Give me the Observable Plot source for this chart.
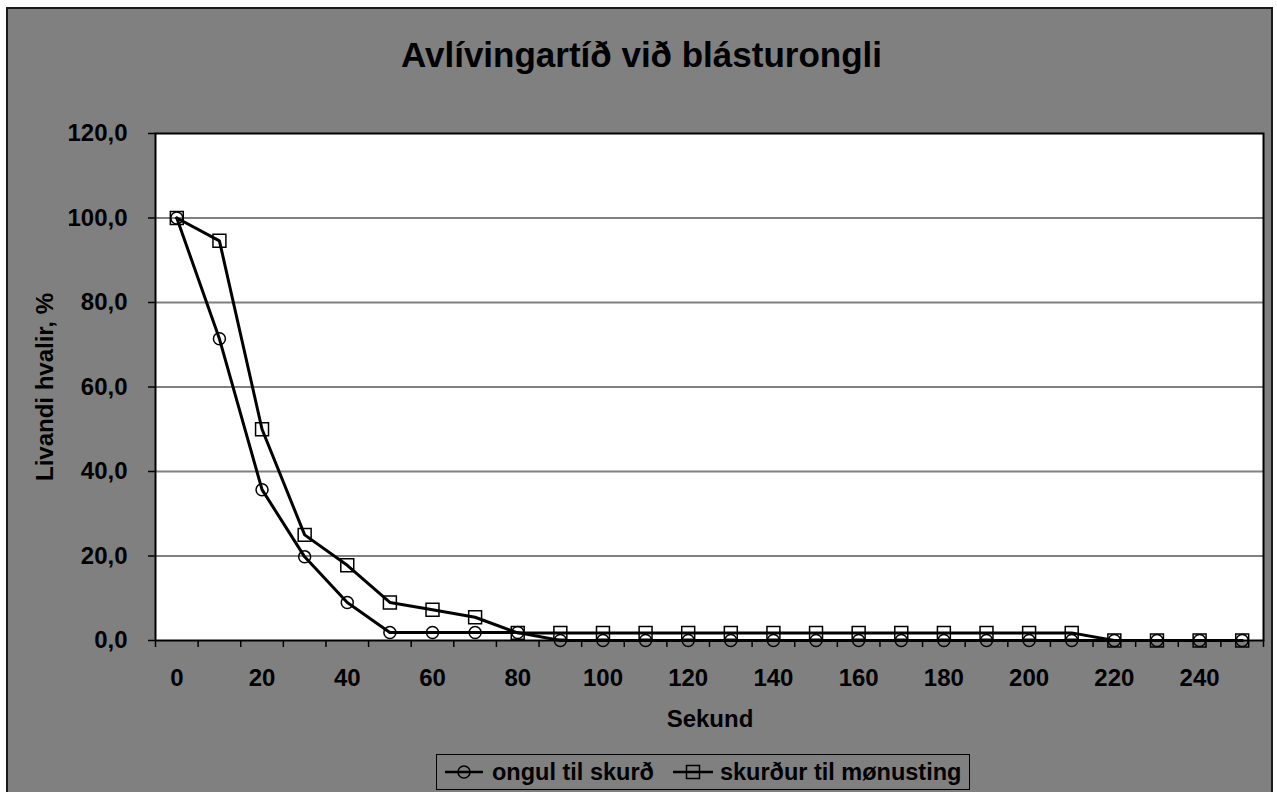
<!DOCTYPE html>
<html>
<head>
<meta charset="utf-8">
<script src="https://cdn.jsdelivr.net/npm/d3@7"></script>
<script src="https://cdn.jsdelivr.net/npm/@observablehq/plot@0.6"></script>
<style>
  html, body { margin: 0; padding: 0; background: #ffffff; width: 1277px; height: 792px; overflow: hidden; }
  body { position: relative; font-family: "Liberation Sans", Arial, sans-serif; font-weight: bold; color: #000; }
  #outer { position: absolute; left: 6px; top: 7px; width: 1267px; height: 800px; background: #808080; border: 2px solid #1a1a1a; box-sizing: border-box; }
  #chart { position: absolute; left: 0; top: 0; }
  .lbl { position: absolute; line-height: 1; white-space: nowrap; }
  #title { font-size: 35px; left: 641.5px; top: 36.5px; transform: translateX(-50%); }
  #xtitle { font-size: 24px; left: 710px; top: 707px; transform: translateX(-50%); }
  #ytitle { font-size: 24px; left: 44.7px; top: 386.5px; transform: translate(-50%, -50%) rotate(-90deg); }
  #legend { position: absolute; left: 436px; top: 754px; height: 34px; border: 1px solid #000; display: flex; align-items: center; padding: 0 8px; font-size: 23.5px; white-space: nowrap; }
  #legend svg { display: block; }
</style>
</head>
<body>
<div id="outer"></div>
<div id="chart"></div>
<div id="title" class="lbl">Avlívingartíð við blásturongli</div>
<div id="ytitle" class="lbl">Livandi hvalir, %</div>
<div id="xtitle" class="lbl">Sekund</div>
<div id="legend"></div>
<script>
// ---- data ----
const seconds = [0,10,20,30,40,50,60,70,80,90,100,110,120,130,140,150,160,170,180,190,200,210,220,230,240,250];
const ongulTilSkurd = [100,71.4,35.7,19.8,9.0,1.9,1.9,1.9,1.9,0,0,0,0,0,0,0,0,0,0,0,0,0,0,0,0,0];
const skurdurTilMonusting = [100,94.6,50.0,25.0,17.8,9.0,7.3,5.5,1.8,1.8,1.8,1.8,1.8,1.8,1.8,1.8,1.8,1.8,1.8,1.8,1.8,1.8,0,0,0,0];
const seriesNames = ["ongul til skurð", "skurður til mønusting"];
const yTicks = [0,20,40,60,80,100,120];
const xLabelTicks = [0,20,40,60,80,100,120,140,160,180,200,220,240];

const s1 = seconds.map((s, i) => ({x: s, y: ongulTilSkurd[i]}));
const s2 = seconds.map((s, i) => ({x: s, y: skurdurTilMonusting[i]}));
const boundaries = d3.range(-5, 256, 10);
const fmt = d => d.toFixed(1).replace(".", ",");

const chart = Plot.plot({
  width: 1277,
  height: 792,
  marginLeft: 155,
  marginRight: 14,
  marginTop: 133,
  marginBottom: 152,
  style: { background: "transparent", fontFamily: "'Liberation Sans', Arial, sans-serif", fontSize: "24px", fontWeight: "bold", color: "#000", overflow: "visible" },
  x: { domain: [-5, 255], label: null },
  y: { domain: [0, 120], label: null },
  marks: [
    Plot.frame({ fill: "white", stroke: null }),
    Plot.gridY([20,40,60,80,100], { stroke: "#808080", strokeOpacity: 1, strokeWidth: 2 }),
    Plot.frame({ stroke: "#000", strokeWidth: 2 }),
    Plot.axisY(yTicks, { tickSize: 7, tickPadding: 21, tickFormat: fmt, stroke: "#000", strokeWidth: 1.5, label: null }),
    Plot.axisX(boundaries, { tickSize: 7, tickFormat: () => "", stroke: "#000", strokeWidth: 1.5, label: null }),
    Plot.axisX(xLabelTicks, { tickSize: 0, tickPadding: 28, label: null }),
    Plot.line(s1, { x: "x", y: "y", stroke: "#000", strokeWidth: 3 }),
    Plot.dot(s1, { x: "x", y: "y", r: 6, stroke: "#000", strokeWidth: 1.5, fill: "none" }),
    Plot.line(s2, { x: "x", y: "y", stroke: "#000", strokeWidth: 3 }),
    Plot.dot(s2, { x: "x", y: "y", r: 7.3, symbol: "square", stroke: "#000", strokeWidth: 1.5, fill: "none" })
  ]
});
document.getElementById("chart").appendChild(chart);

// ---- legend ----
const legend = d3.select("#legend");
const symbols = ["circle", "square"];
seriesNames.forEach((name, i) => {
  const w = i === 0 ? 38 : 40;
  const svg = legend.append("svg").attr("width", w).attr("height", 20)
    .style("margin-left", i === 0 ? "0px" : "19px")
    .style("margin-right", i === 0 ? "9px" : "7px");
  svg.append("line").attr("x1", 0).attr("x2", w).attr("y1", 10).attr("y2", 10)
    .attr("stroke", "#000").attr("stroke-width", 2.5);
  if (symbols[i] === "circle") {
    svg.append("circle").attr("cx", w / 2).attr("cy", 10).attr("r", 6)
      .attr("fill", "none").attr("stroke", "#000").attr("stroke-width", 1.5);
  } else {
    svg.append("rect").attr("x", w / 2 - 6.5).attr("y", 3.5).attr("width", 13).attr("height", 13)
      .attr("fill", "none").attr("stroke", "#000").attr("stroke-width", 1.5);
  }
  legend.append("span").text(name);
});
</script>
</body>
</html>
